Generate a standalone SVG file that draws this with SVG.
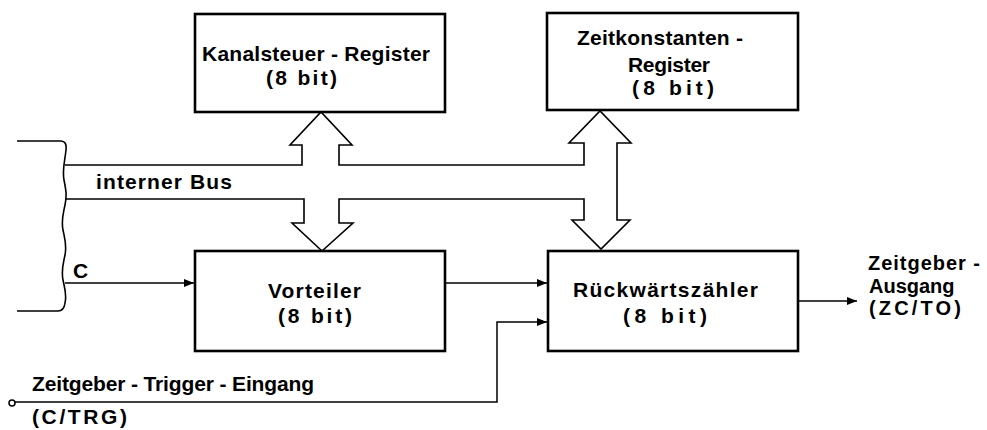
<svg xmlns="http://www.w3.org/2000/svg" width="987" height="430" viewBox="0 0 987 430">
<defs>
<style>
.box{fill:#fff;stroke:#000;stroke-width:2.6}
.ln{fill:none;stroke:#000;stroke-width:1.5}
.bus{fill:none;stroke:#000;stroke-width:1.6;stroke-linejoin:miter}
text{font-family:"Liberation Sans",Arial,sans-serif;font-size:21px;font-weight:bold;fill:#000}
.out{font-size:20px}
</style>
<marker id="ah" viewBox="0 0 10 8" refX="10" refY="4" markerWidth="10" markerHeight="8" markerUnits="userSpaceOnUse" orient="auto">
<path d="M0,0 L10,4 L0,8 Z" fill="#000"/>
</marker>
</defs>
<rect width="987" height="430" fill="#fff"/>
<g id="connectors">
<path class="bus" d="M17,141 H61 Q67,141 66,150 C65,160 62,170 64,180 S67,195 65,205 S61,220 63,230 S67,245 65,255 S61,270 63,280 S67,295 65,303 Q64,311 58,311 H17"/>
<path class="bus" d="M65,165 H302 V145 H290 L321,112 L352,145 H339 V165 H584 V143 H569 L600,111 L631,143 H617 V220 H630 L601,249 L572,220 H584 V199 H339 V223 H353 L322,251 L292,223 H304 V199 H65"/>
<line class="ln" x1="65" y1="283" x2="194" y2="283" marker-end="url(#ah)"/>
<line class="ln" x1="445" y1="283" x2="547" y2="283" marker-end="url(#ah)"/>
<circle cx="12" cy="403" r="3" fill="#fff" stroke="#000" stroke-width="1.5"/>
<polyline class="ln" points="15,402 497,402 497,322 547,322" marker-end="url(#ah)"/>
<line class="ln" x1="799" y1="301" x2="857" y2="301" marker-end="url(#ah)"/>
</g>
<g id="kanalsteuer">
<rect class="box" x="195" y="14" width="250" height="98"/>
<text x="202" y="61" textLength="228" lengthAdjust="spacing">Kanalsteuer - Register</text>
<text x="266" y="85" textLength="71" lengthAdjust="spacing">(8 bit)</text>
</g>
<g id="zeitkonstanten">
<rect class="box" x="547" y="13" width="251" height="97"/>
<text x="577" y="45" textLength="166" lengthAdjust="spacing">Zeitkonstanten -</text>
<text x="628" y="72" textLength="82" lengthAdjust="spacing">Register</text>
<text x="632" y="95" textLength="82" lengthAdjust="spacing">(8 bit)</text>
</g>
<g id="vorteiler">
<rect class="box" x="195" y="251" width="250" height="100"/>
<text x="268" y="298" textLength="93" lengthAdjust="spacing">Vorteiler</text>
<text x="278" y="323" textLength="74" lengthAdjust="spacing">(8 bit)</text>
</g>
<g id="rueckwaertszaehler">
<rect class="box" x="548" y="251" width="250" height="100"/>
<text x="573" y="297" textLength="185" lengthAdjust="spacing">Rückwärtszähler</text>
<text x="623" y="323" textLength="84" lengthAdjust="spacing">(8 bit)</text>
</g>
<g id="labels">
<text x="96" y="189" textLength="136" lengthAdjust="spacing">interner Bus</text>
<text x="73" y="278">C</text>
<text class="out" x="868" y="270" textLength="112" lengthAdjust="spacing">Zeitgeber -</text>
<text class="out" x="869" y="292.5">Ausgang</text>
<text class="out" x="869" y="315" textLength="92" lengthAdjust="spacing">(ZC/TO)</text>
<text x="32" y="391" textLength="282" lengthAdjust="spacing">Zeitgeber - Trigger - Eingang</text>
<text x="32" y="424" textLength="95" lengthAdjust="spacing">(C/TRG)</text>
</g>
</svg>
